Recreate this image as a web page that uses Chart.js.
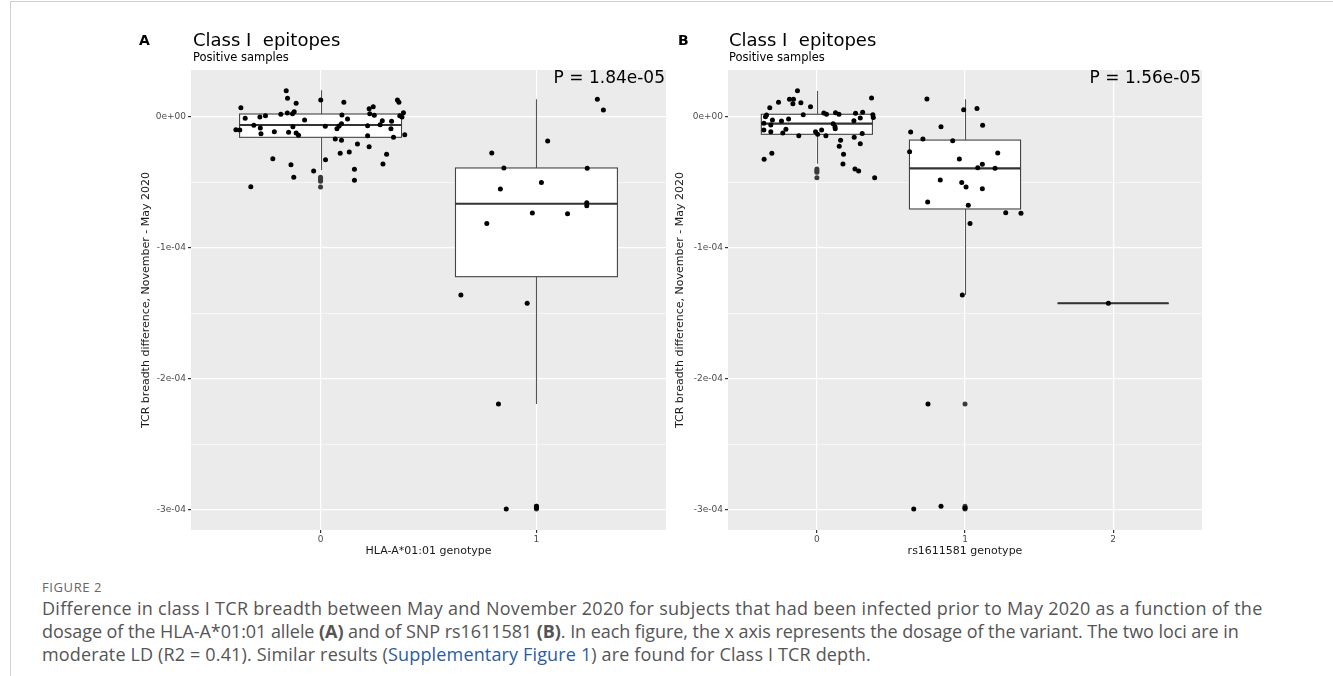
<!DOCTYPE html>
<html>
<head>
<meta charset="utf-8">
<script src="https://cdn.jsdelivr.net/npm/chart.js@4.4.1/dist/chart.umd.min.js"></script>
<style>
  body { margin: 0; background: #fff; width: 1333px; height: 676px; position: relative; overflow: hidden; font-family: "DejaVu Sans", sans-serif; }
  .frame { position: absolute; left: 10px; top: 1px; right: 0; bottom: 0; border-top: 1px solid #d0d0d0; border-left: 1px solid #d0d0d0; }
  canvas { position: absolute; z-index: 1; }
  .lbl { position: absolute; white-space: nowrap; color: #000; line-height: 1; z-index: 2; }
  .letter { font-weight: bold; font-size: 14px; }
  .ttl { font-size: 18px; }
  .sub { font-size: 11.5px; }
  .pval { font-size: 17px; }
  .fig { position: absolute; left: 42px; top: 578px; font-family: "Open Sans", sans-serif; font-size: 13px; color: #666; letter-spacing: 0.6px; }
  .cap { position: absolute; left: 42px; font-family: "Open Sans", sans-serif; font-size: 18px; line-height: 23px; color: #555; white-space: nowrap; }
  .cap .link { color: #2a5d9f; }
</style>
</head>
<body>
<div class="frame"></div>

<div class="lbl letter" style="left:139px; top:33px;">A</div>
<div class="lbl ttl" style="left:193px; top:31px;">Class I&nbsp; epitopes</div>
<div class="lbl sub" style="left:193px; top:52px;">Positive samples</div>
<div class="lbl pval" style="right:668px; top:69px;">P = 1.84e-05</div>

<div class="lbl letter" style="left:678px; top:33px;">B</div>
<div class="lbl ttl" style="left:729px; top:31px;">Class I&nbsp; epitopes</div>
<div class="lbl sub" style="left:729px; top:52px;">Positive samples</div>
<div class="lbl pval" style="right:132px; top:69px;">P = 1.56e-05</div>

<canvas id="chartA" width="540" height="545" style="left:130px; top:20px;"></canvas>
<canvas id="chartB" width="538" height="545" style="left:670px; top:20px;"></canvas>

<div class="fig">FIGURE 2</div>
<div class="cap" style="top:597px; letter-spacing:0.29px;">Difference in class I TCR breadth between May and November 2020 for subjects that had been infected prior to May 2020 as a function of the</div>
<div class="cap" style="top:620px; letter-spacing:-0.06px;">dosage of the HLA-A*01:01 allele <b>(A)</b> and of SNP rs1611581 <b>(B)</b>. In each figure, the x axis represents the dosage of the variant. The two loci are in</div>
<div class="cap" style="top:643px; letter-spacing:0.15px;">moderate LD (R2 = 0.41). Similar results (<span class="link">Supplementary Figure 1</span>) are found for Class I TCR depth.</div>

<script>
// ---------------- DATA ----------------
const yTickValues = [-3e-4, -2e-4, -1e-4, 0];
const yTickLabels = ["-3e-04", "-2e-04", "-1e-04", "0e+00"];
const yMinorValues = [-2.5e-4, -1.5e-4, -0.5e-4];

// panel A : HLA-A*01:01 genotype
const aCats = [0, 1];
const aTickLabels = ["0", "1"];
const aBoxLow = [-4.05e-5, -2.191e-4];
const aBoxQ1 = [-1.55e-5, -1.219e-4];
const aBoxMed = [-0.61e-5, -6.62e-5];
const aBoxQ3 = [0.23e-5, -3.89e-5];
const aBoxHigh = [2.04e-5, 1.35e-5];

const aPointsX = [-0.159, -0.153, -0.113, -0.369, 0.001, 0.108, 0.225, 0.244, 0.356, 0.363,
  -0.349, -0.281, -0.255, -0.184, -0.154, -0.130, -0.122, -0.074, 0.099, 0.125,
  0.228, 0.249, 0.367, 0.384, 0.377, 0.286, 0.329, 0.276, -0.309, -0.279,
  -0.128, 0.022, 0.097, 0.086, 0.076, 0.218, 0.326, -0.392, -0.374, -0.276,
  -0.214, -0.148, -0.113, -0.102, 0.218, 0.338, 0.390, 0.068, 0.097, 0.171,
  0.225, 0.091, 0.133, 0.306, 0.289, -0.221, 0.023, -0.137, 0.157, -0.032,
  -0.124, 0.157, -0.323,
  1.282, 1.310, 1.052, 0.793, 0.849, 1.235, 1.023, 0.833, 1.233, 1.233,
  0.981, 1.144, 0.770, 0.650, 0.957, 0.824, 0.860, 1.0, 1.0];
const aPointsY = [2.01e-5, 1.43e-5, 1.05e-5, 0.71e-5, 1.30e-5, 1.12e-5, 0.63e-5, 0.79e-5, 1.30e-5, 1.12e-5,
  -0.10e-5, 0, 0.10e-5, 0.21e-5, 0.31e-5, 0.25e-5, 0.40e-5, -0.23e-5, 0.15e-5, -0.15e-5,
  0.25e-5, 0.13e-5, 0.10e-5, 0.33e-5, 0, -0.28e-5, -0.33e-5, -0.59e-5, -0.63e-5, -0.84e-5,
  -0.74e-5, -0.71e-5, -0.51e-5, -0.69e-5, -0.89e-5, -0.66e-5, -0.89e-5, -0.97e-5, -0.99e-5, -1.27e-5,
  -1.12e-5, -1.17e-5, -1.22e-5, -1.40e-5, -1.43e-5, -1.55e-5, -1.35e-5, -1.68e-5, -1.78e-5, -2.06e-5,
  -2.27e-5, -2.77e-5, -2.67e-5, -2.85e-5, -3.59e-5, -3.18e-5, -3.26e-5, -3.64e-5, -3.99e-5, -4.12e-5,
  -4.60e-5, -4.83e-5, -5.32e-5,
  1.35e-5, 0.53e-5, -1.83e-5, -2.75e-5, -3.89e-5, -3.92e-5, -4.99e-5, -5.50e-5, -6.54e-5, -6.77e-5,
  -7.33e-5, -7.38e-5, -8.12e-5, -1.359e-4, -1.422e-4, -2.191e-4, -2.992e-4, -2.972e-4, -2.985e-4];
const aOutX = [0, 0, 0, 0, 1, 1, 1];
const aOutY = [-4.60e-5, -4.76e-5, -4.91e-5, -5.34e-5, -2.972e-4, -2.985e-4, -2.992e-4];

// panel B : rs1611581 genotype
const bCats = [0, 1, 2];
const bTickLabels = ["0", "1", "2"];
const bBoxLow = [-3.56e-5, -1.359e-4, -1.422e-4];
const bBoxQ1 = [-1.32e-5, -7.02e-5, -1.422e-4];
const bBoxMed = [-0.51e-5, -3.92e-5, -1.422e-4];
const bBoxQ3 = [0.21e-5, -1.76e-5, -1.422e-4];
const bBoxHigh = [1.98e-5, 1.35e-5, -1.422e-4];

const bPointsX = [-0.131, 0.369, -0.259, -0.185, -0.158, -0.162, -0.108, -0.318, -0.043, -0.340,
  -0.347, -0.092, 0.047, 0.065, 0.126, 0.149, 0.261, 0.309, 0.378, 0.381,
  0.293, -0.300, -0.239, -0.191, 0.250, -0.358, -0.311, 0.110, 0.122, 0.124,
  -0.358, -0.311, -0.209, -0.230, -0.009, 0.005, 0.032, 0.061, -0.122, 0.306,
  0.252, 0.160, 0.293, 0.151, 0.180, -0.304, -0.356, 0.176, 0.257, 0.282, 0.390,
  0.743, 0.991, 1.081, 1.119, 0.838, 0.633, 0.716, 0.917, 0.626, 1.221,
  0.962, 1.117, 1.086, 1.203, 0.833, 0.978, 1.007, 1.117, 0.748, 1.022,
  1.275, 1.378, 1.034, 0.982, 0.750, 0.654, 0.838, 1.0,
  1.968];
const bPointsY = [2.01e-5, 1.45e-5, 1.12e-5, 1.35e-5, 1.35e-5, 1.02e-5, 1.09e-5, 0.71e-5, 0.79e-5, 0.15e-5,
  0.03e-5, 0.18e-5, 0.31e-5, 0.21e-5, 0.33e-5, 0.21e-5, 0.28e-5, 0.36e-5, 0.18e-5, -0.03e-5,
  -0.08e-5, -0.23e-5, -0.31e-5, -0.15e-5, -0.28e-5, -0.48e-5, -0.61e-5, -0.51e-5, -0.74e-5, -0.89e-5,
  -0.99e-5, -1.12e-5, -0.94e-5, -1.22e-5, -1.12e-5, -1.32e-5, -0.99e-5, -1.43e-5, -1.43e-5, -1.25e-5,
  -1.55e-5, -1.78e-5, -2.04e-5, -2.24e-5, -2.85e-5, -2.77e-5, -3.23e-5, -3.59e-5, -3.97e-5, -4.12e-5, -4.63e-5,
  1.37e-5, 0.56e-5, 0.66e-5, -0.63e-5, -0.74e-5, -1.15e-5, -1.68e-5, -1.81e-5, -2.65e-5, -2.75e-5,
  -3.21e-5, -3.61e-5, -3.87e-5, -3.92e-5, -4.81e-5, -4.99e-5, -5.34e-5, -5.47e-5, -6.49e-5, -6.74e-5,
  -7.30e-5, -7.35e-5, -8.12e-5, -1.359e-4, -2.191e-4, -2.992e-4, -2.972e-4, -2.985e-4,
  -1.422e-4];
const bOutX = [0, 0, 0, 0, 1, 1, 1, 1];
const bOutY = [-3.97e-5, -4.10e-5, -4.22e-5, -4.63e-5, -2.191e-4, -2.972e-4, -2.985e-4, -2.992e-4];

// ---------------- BOX PLUGIN ----------------
const boxPlugin = {
  id: "boxes",
  beforeDraw(chart) {
    const { ctx, chartArea: a } = chart;
    ctx.save();
    ctx.fillStyle = "#ebebeb";
    ctx.fillRect(a.left, a.top, a.right - a.left, a.bottom - a.top);
    ctx.restore();
  },
  beforeDatasetsDraw(chart, args, o) {
    const { ctx } = chart;
    const x = chart.scales.x, y = chart.scales.y;
    const half = 0.375;
    ctx.save();
    o.cats.forEach((c, i) => {
      const xl = x.getPixelForValue(c - half), xr = x.getPixelForValue(c + half), xc = Math.round(x.getPixelForValue(c)) + 0.5;
      const yLo = y.getPixelForValue(o.low[i]), yQ1 = y.getPixelForValue(o.q1[i]);
      const yMed = y.getPixelForValue(o.med[i]), yQ3 = y.getPixelForValue(o.q3[i]);
      const yHi = y.getPixelForValue(o.high[i]);
      ctx.strokeStyle = "#555";
      ctx.lineWidth = 1.1;
      ctx.beginPath();
      ctx.moveTo(xc, yHi); ctx.lineTo(xc, yQ3);
      ctx.moveTo(xc, yQ1); ctx.lineTo(xc, yLo);
      ctx.stroke();
      ctx.fillStyle = "#fff";
      ctx.fillRect(xl, yQ3, xr - xl, yQ1 - yQ3);
      ctx.strokeStyle = "#444";
      ctx.strokeRect(xl, yQ3, xr - xl, yQ1 - yQ3);
      ctx.strokeStyle = "#333";
      ctx.lineWidth = 2.2;
      ctx.beginPath();
      ctx.moveTo(xl, yMed); ctx.lineTo(xr, yMed);
      ctx.stroke();
    });
    ctx.restore();
  }
};

// ---------------- CHART ----------------
function makePanel(id, p) {
  const tickFont = { family: "DejaVu Sans", size: 9 };
  const titleFont = { family: "DejaVu Sans", size: 11 };
  return new Chart(document.getElementById(id), {
    type: "scatter",
    data: {
      datasets: [{
        data: p.px.map((v, i) => ({ x: v, y: p.py[i] })),
        backgroundColor: "#000",
        borderWidth: 0,
        pointRadius: 2.5,
        order: 0
      }, {
        data: p.ox.map((v, i) => ({ x: v, y: p.oy[i] })),
        backgroundColor: "#3a3a3a",
        borderWidth: 0,
        pointRadius: 2.5,
        order: 1
      }]
    },
    plugins: [boxPlugin],
    options: {
      responsive: false,
      animation: false,
      layout: { padding: { top: 50, right: p.padRight, left: 0, bottom: 0 } },
      plugins: {
        legend: { display: false },
        tooltip: { enabled: false },
        boxes: { cats: p.cats, low: p.low, q1: p.q1, med: p.med, q3: p.q3, high: p.high }
      },
      scales: {
        x: {
          type: "linear",
          min: -0.6,
          max: p.cats[p.cats.length - 1] + 0.6,
          afterBuildTicks: s => { s.ticks = p.cats.map(v => ({ value: v })); },
          afterFit: s => { s.height = 35; },
          ticks: { callback: (v, i) => p.xLabels[i], font: tickFont, color: "#4d4d4d", padding: 1, autoSkip: false, maxRotation: 0 },
          grid: { color: "#fff", lineWidth: 1.2, tickLength: 3, tickColor: "#333" },
          border: { display: false },
          title: { display: true, text: p.xTitle, font: titleFont, color: "#1a1a1a", padding: { top: 0, bottom: 7 } }
        },
        y: {
          min: -3.153e-4,
          max: 0.359e-4,
          afterBuildTicks: s => {
            s.ticks = yTickValues.concat(yMinorValues).sort((a, b) => a - b).map(v => ({ value: v }));
          },
          afterFit: s => { s.width = p.yWidth; },
          ticks: {
            callback: v => { const k = yTickValues.indexOf(v); return k < 0 ? "" : yTickLabels[k]; },
            font: tickFont, color: "#4d4d4d", padding: 2, autoSkip: false
          },
          grid: {
            color: "#fff",
            lineWidth: c => (c.tick && yMinorValues.includes(c.tick.value)) ? 0.6 : 1.2,
            tickLength: 3,
            tickColor: c => (c.tick && yMinorValues.includes(c.tick.value)) ? "rgba(0,0,0,0)" : "#333"
          },
          border: { display: false },
          title: { display: true, text: "TCR breadth difference, November - May 2020", font: titleFont, color: "#1a1a1a", padding: { top: p.yTitlePad, bottom: 0 } }
        }
      }
    }
  });
}

makePanel("chartA", {
  cats: aCats, xLabels: aTickLabels, low: aBoxLow, q1: aBoxQ1, med: aBoxMed, q3: aBoxQ3, high: aBoxHigh,
  px: aPointsX, py: aPointsY, ox: aOutX, oy: aOutY,
  xTitle: "HLA-A*01:01 genotype", yWidth: 61, padRight: 3, yTitlePad: 10
});
makePanel("chartB", {
  cats: bCats, xLabels: bTickLabels, low: bBoxLow, q1: bBoxQ1, med: bBoxMed, q3: bBoxQ3, high: bBoxHigh,
  px: bPointsX, py: bPointsY, ox: bOutX, oy: bOutY,
  xTitle: "rs1611581 genotype", yWidth: 58, padRight: 6, yTitlePad: 4
});
</script>
</body>
</html>
